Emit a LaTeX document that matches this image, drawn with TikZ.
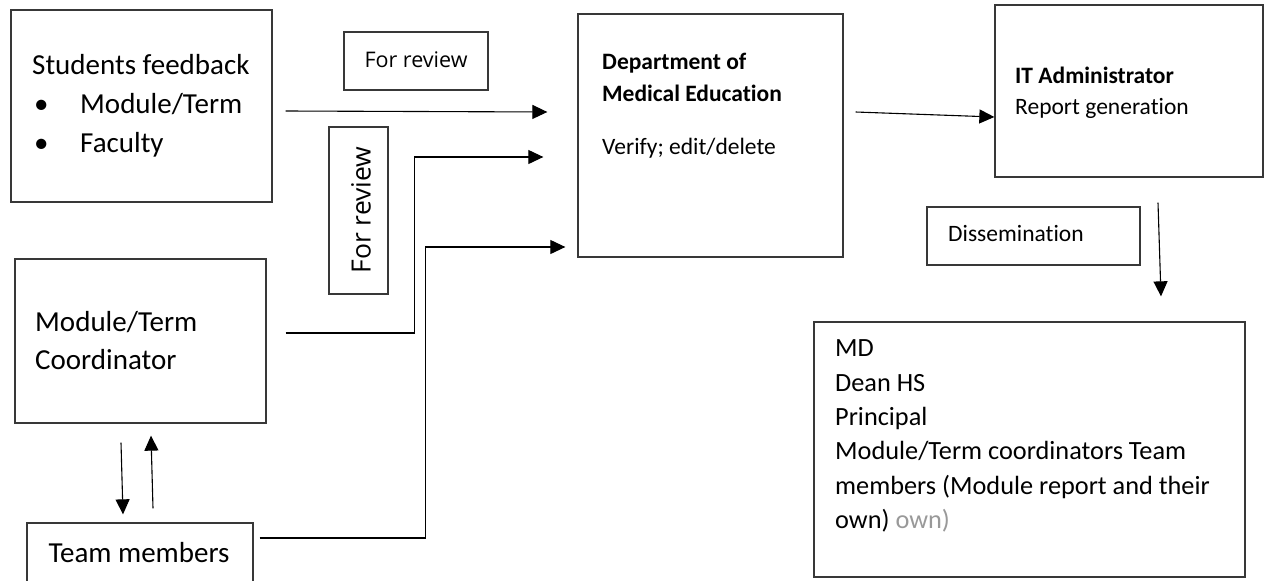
\documentclass[tikz,border=0pt]{standalone}
\usepackage{fontspec}
\setmainfont{Carlito}[Ligatures=NoCommon]
\newfontfamily\revfont{Open Sans}
\usetikzlibrary{arrows.meta,calc}
\tikzset{
  box/.style={draw=black!78, line width=1.3pt, inner sep=0pt},
  arr/.style={draw=black, line width=1.1pt, -{Triangle[length=15pt,width=14pt]}},
  txt/.style={inner sep=0pt, align=left, text=black},
}
\begin{document}
\begin{tikzpicture}[x=1pt,y=-1pt]
\clip (0,0) rectangle (1267,581);
\fill[white] (0,0) rectangle (1267,581);
% boxes
\node[box, minimum width=261pt, minimum height=192pt] (sf) at (141.5,106) {};
\node[box, minimum width=144pt, minimum height=58pt] (fr1) at (416,61) {};
\node[box, minimum width=59pt, minimum height=167pt] (fr2) at (358.5,210.5) {};
\node[box, minimum width=265pt, minimum height=243pt] (dme) at (710.5,135.5) {};
\node[box, minimum width=268pt, minimum height=172pt] (it) at (1129,91) {};
\node[box, minimum width=213pt, minimum height=58pt] (dis) at (1033.5,236) {};
\node[box, minimum width=431pt, minimum height=255pt] (fin) at (1029.5,449.5) {};
\node[box, minimum width=251pt, minimum height=164pt] (mtc) at (140.5,341) {};
\node[box, minimum width=226pt, minimum height=77pt] (tm) at (140,561.5) {};
% texts
\node[txt, anchor=west, font=\fontsize{29}{39}\selectfont] (sft) at (32,106)
  {Students feedback\\\hspace*{2pt}\makebox[46pt][l]{•}Module/Term\\\hspace*{2pt}\makebox[46pt][l]{•}Faculty};
\node[txt, font=\revfont\fontsize{21.5}{24}\selectfont] (fr1t) at (416,60) {For review};
\node[txt, rotate=90, font=\revfont\fontsize{26.5}{30}\selectfont] (fr2t) at (361,210) {For review};
\node[txt, anchor=west, font=\fontsize{23.5}{32}\selectfont] (dmet) at (602,105.5)
  {\textbf{Department of}\\\textbf{Medical Education}\\[21pt]Verify; edit/delete};
\node[txt, anchor=west, font=\fontsize{23.5}{31}\selectfont] (itt) at (1015,92.5)
  {\textbf{IT Administrator}\\Report generation};
\node[txt, anchor=west, font=\fontsize{23.5}{30}\selectfont] (dist) at (948,233) {Dissemination};
\node[txt, anchor=west, font=\fontsize{26.3}{34.4}\selectfont] (fint) at (835,436)
  {MD\\Dean HS\\Principal\\Module/Term coordinators Team\\members (Module report and their\\own)\ \textcolor{black!40}{own)}};
\node[txt, anchor=west, font=\fontsize{29}{38}\selectfont] (mtct) at (35,341)
  {Module/Term\\Coordinator};
\node[txt, font=\fontsize{29}{36}\selectfont] (tmt) at (139,553) {Team members};
% connectors
\draw[arr] ($(sf.east)+(13,5)$) -- ($(dme.west)+(-30,-23.5)$);
\draw[arr] ($(mtc.east)+(19,-8)$) -| ($(dme.west)+(-163,21.5)$) -- ($(dme.west)+(-34,21.5)$);
\draw[arr] ($(tm.east)+(6,-23.5)$) -| ($(dme.west)+(-152,111.5)$) -- ($(dme.west)+(-12,111.5)$);
\draw[arr] ($(dme.east)+(12,-23.5)$) -- ($(it.west)+(0,26)$);
\draw[arr] ($(it.south)+(29,25)$) -- ($(fin.north)+(131.5,-25)$);
\draw[arr] ($(mtc.south)+(-19.5,19)$) -- ($(tm.north)+(-17,-8)$);
\draw[arr] ($(tm.north)+(13,-14)$) -- ($(mtc.south)+(10.5,12)$);
\end{tikzpicture}
\end{document}
